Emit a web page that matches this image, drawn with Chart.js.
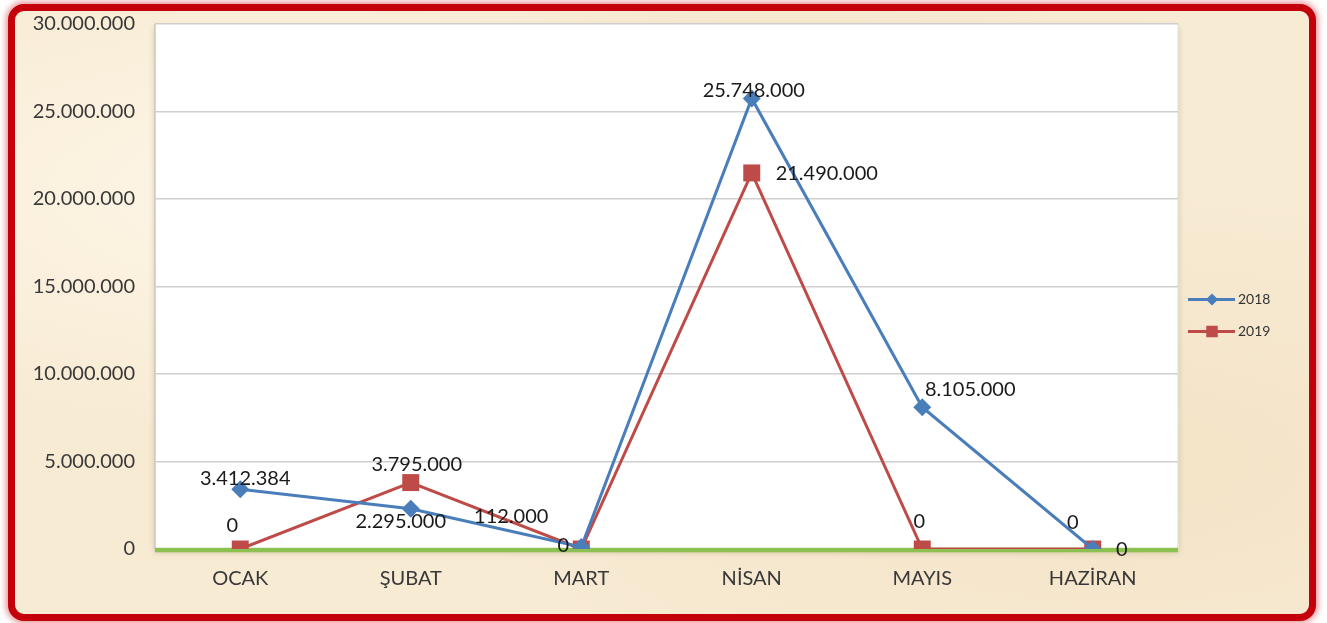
<!DOCTYPE html>
<html lang="tr">
<head>
    <meta charset="UTF-8">
    <title>2018 - 2019 Aylık Karşılaştırma</title>
    <script src="https://cdn.jsdelivr.net/npm/chart.js"></script>
    <style>
        html, body {
            margin: 0;
            padding: 0;
            background: #ffffff;
            overflow: hidden;
        }
        .frame {
            position: absolute;
            left: 8px;
            top: 4px;
            width: 1294px;
            height: 603px;
            border: 7px solid #c4000a;
            border-radius: 16px;
            box-shadow: 0 0 6px 2px rgba(200, 0, 10, 0.45);
            background:
                radial-gradient(ellipse at 20% 30%, rgba(255, 250, 238, 0.7), rgba(255, 250, 238, 0) 40%),
                radial-gradient(ellipse at 85% 75%, rgba(240, 222, 190, 0.6), rgba(240, 222, 190, 0) 45%),
                radial-gradient(ellipse at 60% 10%, rgba(246, 230, 204, 0.6), rgba(246, 230, 204, 0) 35%),
                #f8ebd4;
        }
        .chart-box {
            position: absolute;
            left: 0;
            top: 0;
            width: 1327px;
            height: 623px;
        }
    </style>
</head>
<body>
<div class="frame"></div>
<div class="chart-box">
    <canvas id="sales-chart"></canvas>
</div>

<script>
    // values
    const months = ['OCAK', 'ŞUBAT', 'MART', 'NİSAN', 'MAYIS', 'HAZİRAN'];
    const series2018 = [3412384, 2295000, 112000, 25748000, 8105000, 0];
    const series2019 = [0, 3795000, 0, 21490000, 0, 0];
    const yTicks = [0, 5000000, 10000000, 15000000, 20000000, 25000000, 30000000];

    // where each data label sits relative to its point (dx, dy)
    const labelShift2018 = [[5, -11], [-10, 13], [-70, -30], [2, -8], [48, -18], [-20, -26]];
    const labelShift2019 = [[-8, -23], [6, -18], [-18, -3], [75, 1], [-3, -27], [29, 1]];

    const BLUE = '#4a7ebb';
    const RED = '#be4b48';
    const FONT = 'Lato, "Open Sans", sans-serif';

    function fmt(n) {
        return String(n).replace(/\B(?=(\d{3})+(?!\d))/g, '.');
    }

    // white plot area + green base line + edges
    const plotArea = {
        id: 'plotArea',
        beforeDraw(chart) {
            const { ctx, chartArea: a } = chart;
            ctx.save();
            ctx.shadowColor = 'rgba(120, 100, 60, 0.35)';
            ctx.shadowBlur = 6;
            ctx.shadowOffsetY = 3;
            ctx.fillStyle = '#ffffff';
            ctx.fillRect(a.left, a.top, a.right - a.left, a.bottom - a.top);
            ctx.restore();

            ctx.save();
            ctx.strokeStyle = '#e2ead0';
            ctx.lineWidth = 1.5;
            ctx.beginPath();
            ctx.moveTo(a.right, a.top);
            ctx.lineTo(a.right, a.bottom);
            ctx.stroke();
            ctx.strokeStyle = '#c9c9c0';
            ctx.beginPath();
            ctx.moveTo(a.left, a.top);
            ctx.lineTo(a.left, a.bottom);
            ctx.stroke();
            ctx.restore();
        },
        beforeDatasetsDraw(chart) {
            const { ctx, chartArea: a } = chart;
            const y0 = chart.scales.y.getPixelForValue(0);
            ctx.save();
            ctx.strokeStyle = '#8cc151';
            ctx.lineWidth = 4.5;
            ctx.beginPath();
            ctx.moveTo(a.left, y0 + 1);
            ctx.lineTo(a.right, y0 + 1);
            ctx.stroke();
            ctx.restore();
        }
    };

    const dataLabels = {
        id: 'dataLabels',
        afterDatasetsDraw(chart) {
            const { ctx } = chart;
            ctx.save();
            ctx.font = '20px ' + FONT;
            ctx.fillStyle = '#1a1a1a';
            ctx.textAlign = 'center';
            ctx.textBaseline = 'middle';
            chart.data.datasets.forEach((ds, i) => {
                const meta = chart.getDatasetMeta(i);
                meta.data.forEach((pt, j) => {
                    const s = ds.labelShift[j];
                    ctx.fillText(fmt(ds.data[j]), pt.x + s[0], pt.y + s[1]);
                });
            });
            ctx.restore();
        }
    };

    // legend drawn as line + marker, like the spreadsheet one
    const sideLegend = {
        id: 'sideLegend',
        afterDraw(chart) {
            const { ctx, chartArea: a } = chart;
            const x0 = a.right + 10;
            const mid = chart.height / 2 + 4;
            const step = 32;
            const sets = chart.data.datasets;
            ctx.save();
            ctx.font = '14px ' + FONT;
            ctx.textBaseline = 'middle';
            ctx.textAlign = 'left';
            sets.forEach((ds, i) => {
                const y = mid + (i - (sets.length - 1) / 2) * step;
                ctx.strokeStyle = ds.borderColor;
                ctx.lineWidth = 3;
                ctx.beginPath();
                ctx.moveTo(x0, y);
                ctx.lineTo(x0 + 47, y);
                ctx.stroke();
                Chart.helpers.drawPoint(ctx, {
                    pointStyle: ds.pointStyle,
                    radius: ds.pointStyle === 'rect' ? 6 : 4,
                    borderWidth: 1
                }, x0 + 24, y);
                ctx.fillStyle = ds.borderColor;
                ctx.fill();
                ctx.fillStyle = '#333333';
                ctx.fillText(ds.label, x0 + 50, y);
            });
            ctx.restore();
        }
    };

    new Chart(document.getElementById('sales-chart'), {
        type: 'line',
        data: {
            labels: months,
            datasets: [{
                label: '2018',
                data: series2018,
                labelShift: labelShift2018,
                borderColor: BLUE,
                backgroundColor: BLUE,
                borderWidth: 3,
                pointStyle: 'rectRot',
                pointRadius: 9,
                pointBorderWidth: 0,
                tension: 0
            }, {
                label: '2019',
                data: series2019,
                labelShift: labelShift2019,
                borderColor: RED,
                backgroundColor: RED,
                borderWidth: 3,
                pointStyle: 'rect',
                pointRadius: 12,
                pointBorderWidth: 0,
                tension: 0
            }]
        },
        options: {
            responsive: true,
            maintainAspectRatio: false,
            animation: false,
            layout: { padding: { left: 20, top: 24, right: 149, bottom: 0 } },
            plugins: {
                legend: { display: false },
                tooltip: { enabled: false }
            },
            scales: {
                x: {
                    offset: true,
                    grid: { display: false, drawTicks: false },
                    border: { display: false },
                    ticks: {
                        color: '#383838',
                        padding: 18,
                        font: { family: FONT, size: 20 }
                    },
                    afterFit(scale) { scale.height = 74; }
                },
                y: {
                    min: 0,
                    max: 30000000,
                    afterBuildTicks(scale) {
                        scale.ticks = yTicks.map(v => ({ value: v }));
                    },
                    grid: {
                        color: ctx => ctx.tick && ctx.tick.value === 0 ? 'rgba(0,0,0,0)' : '#cfcfcf',
                        lineWidth: 1.5,
                        drawTicks: false
                    },
                    border: { display: false },
                    ticks: {
                        color: '#383838',
                        padding: 20,
                        font: { family: FONT, size: 20 },
                        callback: v => fmt(v)
                    },
                    afterFit(scale) {
                        scale.width = 135;
                        scale.paddingTop = 0;
                        scale.paddingBottom = 0;
                    }
                }
            }
        },
        plugins: [plotArea, dataLabels, sideLegend]
    });
</script>
</body>
</html>
